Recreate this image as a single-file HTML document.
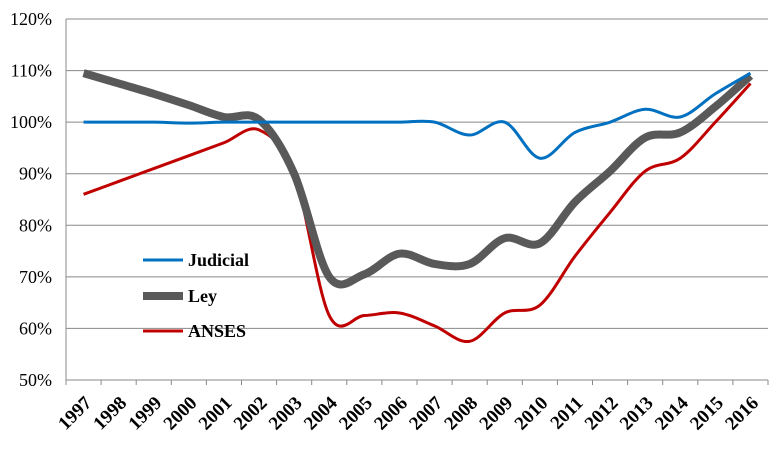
<!DOCTYPE html>
<html><head><meta charset="utf-8"><style>
body{margin:0;background:#fff;}
svg text{font-family:"Liberation Serif",serif;}
</style></head><body>
<svg id="s" width="783" height="450" xmlns="http://www.w3.org/2000/svg"></svg>
<script>
const s=document.getElementById('s');
const L=66,R=768,T=19,B=380;
const Y=v=>B-(v-50)/70*(B-T);
const X=i=>L+(i+0.5)*(R-L)/20;
let h='';
for(let v=50;v<=120;v+=10){
  if(v>50)h+=`<line x1="${L}" x2="${R}" y1="${Y(v)}" y2="${Y(v)}" stroke="#888" stroke-width="1"/>`;
  h+=`<text x="52" y="${Y(v)+6}" font-size="18" text-anchor="end">${v}%</text>`;
}
h+=`<line x1="${L}" x2="${L}" y1="${T}" y2="${B}" stroke="#888"/><line x1="${L}" x2="${R}" y1="${B}" y2="${B}" stroke="#888"/>`;
for(let i=0;i<=20;i++){const x=L+i*(R-L)/20;h+=`<line x1="${x}" x2="${x}" y1="${B}" y2="${B+5}" stroke="#888"/>`;}
for(let i=0;i<20;i++){const x=X(i)+9,y=B+24;
  h+=`<text transform="translate(${x},${y}) rotate(-45)" font-size="19" font-weight="bold" text-anchor="end">${1997+i}</text>`;}
const J=[100,100,100,99.8,100,100,100,100,100,100,100,97.5,100,93,98,100,102.5,101,105.5,109.5];
const Ly=[109.5,107.5,105.5,103.3,101,100.5,90,70,70.5,74.5,72.5,72.5,77.5,76.5,84.5,90.5,97,98,103,109];
const A=[86,88.5,91,93.5,96,98.5,90,62.5,62.5,63,60.5,57.5,63,64.5,74,82.5,90.5,93,100,107.5];
function path(d){const p=d.map((v,i)=>[X(i),Y(v)]);let s=`M${p[0][0]},${p[0][1]}`;
  for(let i=0;i<p.length-1;i++){const p0=p[i-1]||p[i],p1=p[i],p2=p[i+1],p3=p[i+2]||p2;
    const c1=[p1[0]+(p2[0]-p0[0])/6,p1[1]+(p2[1]-p0[1])/6],c2=[p2[0]-(p3[0]-p1[0])/6,p2[1]-(p3[1]-p1[1])/6];
    s+=` C${c1} ${c2} ${p2}`;}return s;}
h+=`<path d="${path(A)}" fill="none" stroke="#c00000" stroke-width="3"/>`;
h+=`<path d="${path(Ly)}" fill="none" stroke="#595959" stroke-width="8"/>`;
h+=`<path d="${path(J)}" fill="none" stroke="#0070c0" stroke-width="3"/>`;
h+=`<line x1="143" x2="183" y1="260" y2="260" stroke="#0070c0" stroke-width="3"/><text x="188" y="266" font-size="18" font-weight="bold">Judicial</text>`;
h+=`<line x1="143" x2="183" y1="296" y2="296" stroke="#595959" stroke-width="8"/><text x="188" y="302" font-size="18" font-weight="bold">Ley</text>`;
h+=`<line x1="143" x2="183" y1="331" y2="331" stroke="#c00000" stroke-width="3"/><text x="188" y="337" font-size="18" font-weight="bold">ANSES</text>`;
s.innerHTML=h;
</script>
</body></html>
